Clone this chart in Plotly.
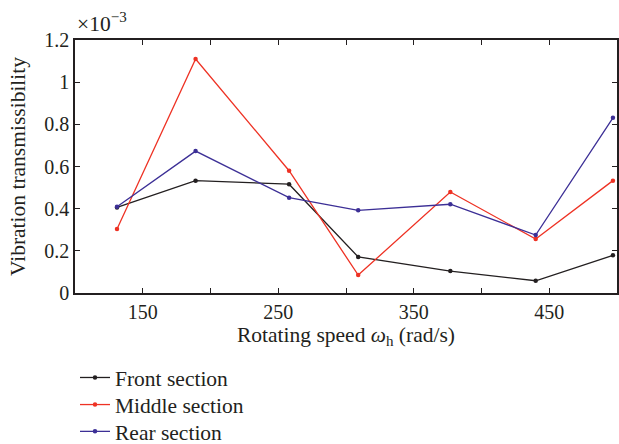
import plotly.graph_objects as go

# Rotating speed (rad/s)
speed = [131, 189, 258, 309, 377, 440, 497]

# Vibration transmissibility, in units of 1e-3
front = [0.406, 0.533, 0.516, 0.171, 0.104, 0.058, 0.179]
middle = [0.304, 1.110, 0.580, 0.085, 0.479, 0.256, 0.533]
rear = [0.409, 0.673, 0.452, 0.392, 0.421, 0.275, 0.831]

series = [
    ("Front section", front, "#231f20", "legend"),
    ("Middle section", middle, "#ee3224", "legend2"),
    ("Rear section", rear, "#3c2f96", "legend3"),
]

x_ticks = list(range(100, 501, 50))
x_labels = [str(v) if v in (150, 250, 350, 450) else "" for v in x_ticks]
y_ticks = [0, 0.2, 0.4, 0.6, 0.8, 1.0, 1.2]
y_labels = ["0", "0.2", "0.4", "0.6", "0.8", "1", "1.2"]

FONT = "Liberation Serif"
INK = "#231f20"
TICK_SIZE = 20
TEXT_SIZE = 21.5

fig = go.Figure()
for name, vals, color, leg in series:
    fig.add_trace(go.Scatter(
        x=speed, y=vals, name=name, mode="lines+markers",
        line=dict(color=color, width=1.3),
        marker=dict(color=color, size=4.5),
        legend=leg,
    ))

axis_common = dict(
    showline=True, linecolor=INK, linewidth=1.5, mirror="ticks",
    ticks="inside", ticklen=5, tickcolor=INK, tickwidth=1,
    showgrid=False, zeroline=False,
    tickfont=dict(family=FONT, size=TICK_SIZE, color=INK),
)


def legend_box(y):
    # one legend per series, stacked below the plot
    return dict(
        x=0.0, y=y, xanchor="left", yanchor="top",
        font=dict(family=FONT, size=TEXT_SIZE, color=INK),
        bgcolor="rgba(0,0,0,0)",
    )


fig.update_layout(
    width=619, height=444,
    margin=dict(l=75, r=2, t=40, b=151, autoexpand=False),
    paper_bgcolor="white", plot_bgcolor="white",
    font=dict(family=FONT, size=TEXT_SIZE, color=INK),
    xaxis=dict(
        range=[100, 500], tickvals=x_ticks, ticktext=x_labels,
        title=dict(text="Rotating speed <i>ω</i><sub>h</sub> (rad/s)",
                   font=dict(family=FONT, size=TEXT_SIZE, color=INK), standoff=5),
        **axis_common,
    ),
    yaxis=dict(
        range=[0, 1.2], tickvals=y_ticks, ticktext=y_labels,
        title=dict(text="Vibration transmissibility",
                   font=dict(family=FONT, size=TEXT_SIZE, color=INK), standoff=13),
        **axis_common,
    ),
    legend=legend_box(-0.253),
    legend2=legend_box(-0.360),
    legend3=legend_box(-0.466),
    showlegend=True,
)

fig.add_annotation(
    text="×10<sup>−3</sup>", xref="paper", yref="paper",
    x=0.0, y=1.0, xanchor="left", yanchor="bottom", yshift=2,
    showarrow=False, font=dict(family=FONT, size=TEXT_SIZE, color=INK),
)

fig.write_html("out.html")
